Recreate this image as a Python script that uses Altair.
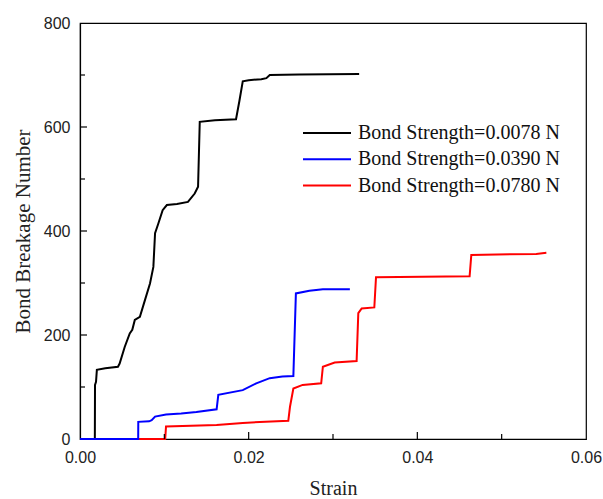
import altair as alt
import pandas as pd

# ---- data ----
black_strain = [0, 0.00176, 0.00178, 0.0019, 0.0020, 0.0030, 0.0045, 0.0047, 0.0053, 0.0059,
                0.0062, 0.0065, 0.0071, 0.0077, 0.0083, 0.0087, 0.0089, 0.0093, 0.0098, 0.0103,
                0.0115, 0.0128, 0.0136, 0.0140, 0.0142, 0.0160, 0.0185, 0.0189, 0.0193, 0.0200,
                0.0215, 0.0221, 0.0225, 0.0260, 0.0331]
black_bonds = [0, 0, 104, 110, 133, 136, 139, 145, 177, 203,
               210, 229, 235, 267, 299, 331, 396, 415, 440, 450,
               452, 456, 472, 485, 610, 613, 615, 650, 688, 690,
               692, 694, 700, 701, 702]

blue_strain = [0, 0.0069, 0.00691, 0.0082, 0.0085, 0.0089, 0.0102, 0.0120, 0.0138, 0.0162,
               0.0164, 0.0193, 0.0209, 0.0225, 0.0240, 0.0253, 0.0256, 0.0272, 0.0288, 0.0320]
blue_bonds = [0, 0, 33, 34, 36, 43, 47, 49, 52, 57,
              85, 94, 107, 117, 120, 121, 280, 285, 288, 288]

red_strain = [0, 0.0101, 0.0102, 0.0162, 0.0193, 0.0247, 0.0249, 0.0253, 0.0264, 0.0286,
              0.0288, 0.0302, 0.0328, 0.0330, 0.0334, 0.0349, 0.0351, 0.0462, 0.0464, 0.0541,
              0.0553]
red_bonds = [0, 0, 24, 27, 31, 35, 62, 97, 104, 107,
             139, 147, 150, 242, 251, 253, 311, 313, 354, 356,
             358]

series_names = ["Bond Strength=0.0078 N", "Bond Strength=0.0390 N", "Bond Strength=0.0780 N"]
series_colors = ["#000000", "#0000ff", "#ff0000"]

x_major = [0.02, 0.04]
x_minor = [0.01, 0.03, 0.05]
y_major = [200, 400, 600]
y_minor = [100, 300, 500, 700]

# ---- build table ----
rows = []
for name, xs, ys in zip(series_names, [black_strain, blue_strain, red_strain],
                        [black_bonds, blue_bonds, red_bonds]):
    for i, (x, y) in enumerate(zip(xs, ys)):
        rows.append({"series": name, "strain": x, "bonds": y, "order": i})
df = pd.DataFrame(rows)

W, H = 506, 416
xscale = alt.Scale(domain=[0, 0.06], nice=False, zero=False)
yscale = alt.Scale(domain=[0, 800], nice=False)
color = alt.Color(
    "series:N",
    scale=alt.Scale(domain=series_names, range=series_colors),
    legend=alt.Legend(
        title=None, orient="none", legendX=237, legendY=100,
        symbolType="M-4,0H4", symbolSize=144, symbolStrokeWidth=2,
        labelFont="Liberation Serif", labelFontSize=20, labelColor="#111",
        labelOffset=21, rowPadding=6.3, padding=0, labelLimit=400,
    ),
)

def series_layer(name):
    return alt.Chart(df).transform_filter(alt.datum.series == name).mark_line(
        strokeWidth=2, interpolate="linear"
    ).encode(
        x=alt.X("strain:Q", scale=xscale, axis=alt.Axis(
            values=[0, 0.02, 0.04, 0.06], format=".2f", title="Strain",
            ticks=False, tickSize=0, grid=False, labelPadding=10, labelFlush=False,
            labelFont="Liberation Sans", labelFontSize=16, labelColor="#222",
            titleFont="Liberation Serif", titleFontSize=20, titleFontWeight="normal",
            titleColor="#222", titleX=W / 2, titleY=49, titleBaseline="middle",
            domainColor="#000", domainWidth=1.2)),
        y=alt.Y("bonds:Q", scale=yscale, axis=alt.Axis(
            values=[0, 200, 400, 600, 800], title="Bond Breakage Number",
            ticks=False, tickSize=0, grid=False, labelPadding=10, labelFlush=False,
            labelFont="Liberation Sans", labelFontSize=16, labelColor="#222",
            titleFont="Liberation Serif", titleFontSize=21, titleFontWeight="normal",
            titleColor="#222", titleX=-57, titleY=H / 2, titleBaseline="middle",
            titleAlign="center", titleAngle=270,
            domainColor="#000", domainWidth=1.2)),
        color=color,
        order="order:Q",
    )

layers = [series_layer(series_names[0]), series_layer(series_names[2]), series_layer(series_names[1])]

xt_major = alt.Chart(pd.DataFrame({"t": x_major})).mark_rule(color="#000", strokeWidth=1.2).encode(
    x=alt.X("t:Q", scale=xscale), y=alt.value(H), y2=alt.value(H - 7))
xt_minor = alt.Chart(pd.DataFrame({"t": x_minor})).mark_rule(color="#000", strokeWidth=1.2).encode(
    x=alt.X("t:Q", scale=xscale), y=alt.value(H), y2=alt.value(H - 5))
yt_major = alt.Chart(pd.DataFrame({"t": y_major})).mark_rule(color="#000", strokeWidth=1.2).encode(
    y=alt.Y("t:Q", scale=yscale), x=alt.value(0), x2=alt.value(7))
yt_minor = alt.Chart(pd.DataFrame({"t": y_minor})).mark_rule(color="#000", strokeWidth=1.2).encode(
    y=alt.Y("t:Q", scale=yscale), x=alt.value(0), x2=alt.value(5))

chart = alt.layer(*layers, xt_major, xt_minor, yt_major, yt_minor).properties(
    width=W, height=H,
    autosize=alt.AutoSizeParams(type="none"),
    padding={"left": 80, "top": 23, "right": 17, "bottom": 60},
    background="white",
).configure_view(stroke="#000", strokeWidth=1.2)

chart.save("out.html", embed_options={"renderer": "svg", "actions": False})
